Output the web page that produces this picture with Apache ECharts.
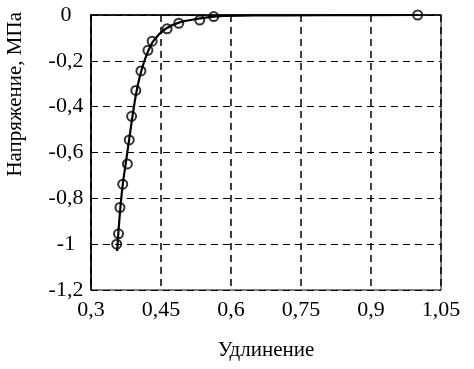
<!DOCTYPE html>
<html>
<head>
<meta charset="utf-8">
<script src="https://cdn.jsdelivr.net/npm/echarts@6/dist/echarts.min.js"></script>
<style>
  html, body { margin: 0; padding: 0; background: #fff; }
  #chart { width: 474px; height: 369px; }
</style>
</head>
<body>
<div id="chart"></div>
<script>
// measured points (markers)
var pointX = [0.355, 0.359, 0.362, 0.368, 0.378, 0.382, 0.387, 0.396, 0.407, 0.422, 0.431, 0.463, 0.488, 0.533, 0.563, 1.0];
var pointY = [-1.0, -0.955, -0.84, -0.738, -0.65, -0.545, -0.442, -0.329, -0.244, -0.154, -0.114, -0.06, -0.036, -0.022, -0.007, 0];
// fitted curve
var curveX = [0.356, 0.359, 0.363, 0.368, 0.375, 0.382, 0.389, 0.397, 0.407, 0.42, 0.435, 0.46, 0.49, 0.53, 0.57, 0.65, 0.8, 1.0];
var curveY = [-1.03, -0.94, -0.84, -0.74, -0.64, -0.54, -0.44, -0.34, -0.25, -0.17, -0.11, -0.06, -0.032, -0.016, -0.006, -0.002, -0.001, 0];
var xTicks = [0.3, 0.45, 0.6, 0.75, 0.9, 1.05];

var font = '"Liberation Serif", "Times New Roman", serif';

function zip(a, b) {
    var out = [];
    for (var i = 0; i < a.length; i++) {
        out.push([a[i], b[i]]);
    }
    return out;
}
function fmt(v) {
    return String(+v.toFixed(2)).replace('.', ',');
}

var chart = echarts.init(document.getElementById('chart'));
var option = {
    animation: false,
    backgroundColor: '#fff',
    grid: {
        left: 91, right: 33, top: 15, bottom: 79,
        show: true, borderColor: '#000', borderWidth: 1
    },
    xAxis: {
        type: 'value',
        min: xTicks[0], max: xTicks[xTicks.length - 1], interval: 0.15,
        name: 'Удлинение',
        nameLocation: 'middle',
        nameGap: 50,
        nameTextStyle: { fontFamily: font, fontSize: 21, color: '#000' },
        axisLine: { show: true, lineStyle: { color: '#000', width: 1.5 } },
        axisTick: { show: false },
        axisLabel: { fontFamily: font, fontSize: 22, color: '#000', margin: 9, formatter: fmt },
        splitLine: { show: true, lineStyle: { color: '#000', type: [7, 5], width: 1.5 } }
    },
    yAxis: {
        type: 'value',
        min: -1.2, max: 0, interval: 0.2,
        axisLine: { show: true, lineStyle: { color: '#000', width: 1.5 } },
        axisTick: { show: false },
        axisLabel: { fontFamily: font, fontSize: 22, color: '#000', margin: 25, align: 'center', formatter: fmt },
        splitLine: { show: true, lineStyle: { color: '#000', type: [7, 5], width: 1 } }
    },
    graphic: [{
        type: 'text',
        left: 5,
        top: 12,
        rotation: Math.PI / 2,
        style: {
            text: 'Напряжение, МПа',
            font: '21px ' + font,
            fill: '#000'
        }
    }],
    series: [{
        type: 'line',
        data: zip(curveX, curveY),
        smooth: 0.3,
        showSymbol: false,
        lineStyle: { color: '#000', width: 2.2 }
    }, {
        type: 'scatter',
        data: zip(pointX, pointY),
        symbol: 'circle',
        symbolSize: 9,
        itemStyle: { color: 'rgba(0,0,0,0)', borderColor: '#000', borderWidth: 2 }
    }]
};
chart.setOption(option);
</script>
</body>
</html>
